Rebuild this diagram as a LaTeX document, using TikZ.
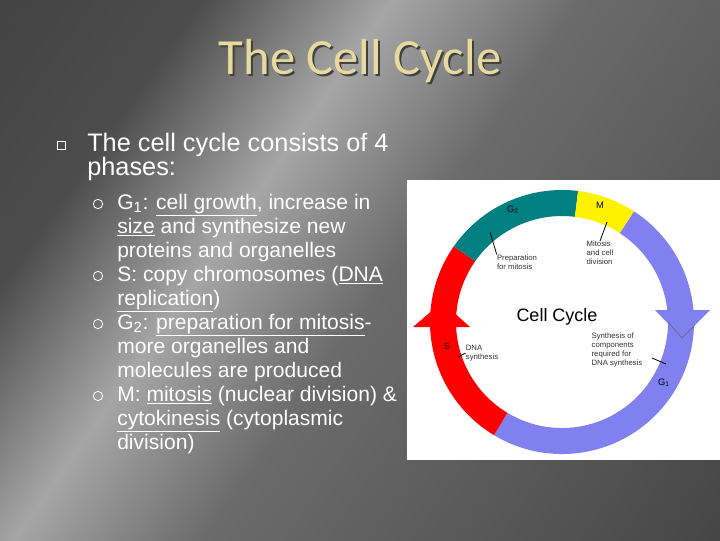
\documentclass[tikz,border=0pt]{standalone}
\usepackage{fontspec}
\setmainfont{Liberation Sans}
\newfontfamily\titlefont{Carlito}
\pgfdeclarehorizontalshading{slidebg}{100bp}{color(0bp)=(black!78); color(28bp)=(black!70); color(40bp)=(black!35); color(52bp)=(black!58); color(75bp)=(black!68); color(100bp)=(black!80)}
\begin{document}
\begin{tikzpicture}[x=0.75pt,y=-0.75pt,
  body/.style={anchor=base west,text=white,font=\fontsize{19}{22}\selectfont,inner sep=0},
  sub/.style={anchor=base west,text=white,font=\fontsize{15.8}{18}\selectfont,inner sep=0},
  small/.style={font=\fontsize{5.8}{6.6}\selectfont,align=left,inner sep=0,text=black!80},
  ptr/.style={black,line width=0.6pt}]
\useasboundingbox (0,0) rectangle (720,540);
\shade[shading=slidebg,shading angle=-35] (0,0) rectangle (720,540);
% title with shadow
\node[text=black!75,font=\titlefont\fontsize{38}{40}\selectfont] at (362,63) {The Cell Cycle};
\node[text={rgb,255:red,232;green,218;blue,158},font=\titlefont\fontsize{38}{40}\selectfont] (title) at (360,61) {The Cell Cycle};
% main bullet
\node[draw=white,line width=0.6pt,minimum size=6pt,inner sep=0] (b0) at (61,145) {};
\node[body] (l1) at (87,151) {The cell cycle consists of 4};
\node[body] (l2) at (87,175) {phases:};
\foreach \y/\n in {204/s1,276/s2,324/s3,396/s4}
  \node[draw=white,circle,line width=0.6pt,minimum size=7pt,inner sep=0] (\n) at (98,\y) {};
\node[sub] at (117,209) {G\textsubscript{1}: \underline{cell growth}, increase in};
\node[sub] at (117,233) {\underline{size} and synthesize new};
\node[sub] at (117,257) {proteins and organelles};
\node[sub] at (117,281) {S: copy chromosomes (\underline{DNA}};
\node[sub] at (117,305) {\underline{replication})};
\node[sub] at (117,329) {G\textsubscript{2}: \underline{preparation for mitosis}-};
\node[sub] at (117,353) {more organelles and};
\node[sub] at (117,377) {molecules are produced};
\node[sub] at (117,401) {M: \underline{mitosis} (nuclear division) \&};
\node[sub] at (117,425) {\underline{cytokinesis} (cytoplasmic};
\node[sub] at (117,449) {division)};
% image
\fill[white] (407,180) rectangle (720,460);
\begin{scope}[shift={(562,322)},yscale=-1]
  \fill[fill={rgb,255:red,128;green,128;blue,240}] (57:132) arc (57:-121:132) -- (-121:106) arc (-121:57:106) -- cycle;
  \fill[red] (-121:132) arc (-121:-215:132) -- (-215:106) arc (-215:-121:106) -- cycle;
  \fill[fill={rgb,255:red,0;green,128;blue,128}] (145:132) arc (145:83:132) -- (83:106) arc (83:145:106) -- cycle;
  \fill[yellow] (83:132) arc (83:57:132) -- (57:106) arc (57:83:106) -- cycle;
\end{scope}
\fill[fill={rgb,255:red,128;green,128;blue,240}] (655,310) -- (710,310) -- (682,338) -- cycle;
\draw[black!60,line width=0.4pt] (668,322) -- (682,338) -- (695,325);
\fill[red] (413,327) -- (442,302) -- (470,327) -- cycle;
\node (g2) at (513,210) {\fontsize{7}{8}\selectfont G\textsubscript{2}};
\node (m) at (600,205) {\fontsize{7}{8}\selectfont M};
\node (s) at (447,347) {\fontsize{6.5}{8}\selectfont S};
\node (g1) at (664,383) {\fontsize{7}{8}\selectfont G\textsubscript{1}};
\node (cc) at (557,317) {\fontsize{13.5}{14}\selectfont Cell Cycle};
\node[small] (prep) at (517,262) {Preparation\\for mitosis};
\node[small] (mit) at (600,253) {Mitosis\\and cell\\division};
\node[small] (dna) at (482,353) {DNA\\synthesis};
\node[small] (syn) at (617,350) {Synthesis of\\components\\required for\\DNA synthesis};
\coordinate (pg2) at (490,232); \draw[ptr] (pg2) -- (prep.north west);
\coordinate (pm) at (607,222); \draw[ptr] (pm) -- (mit.north);
\coordinate (ps) at (458,357); \draw[ptr] (ps) -- (dna.west);
\coordinate (pg1) at (666,364); \draw[ptr] (pg1) -- (652,358);
\end{tikzpicture}
\end{document}
